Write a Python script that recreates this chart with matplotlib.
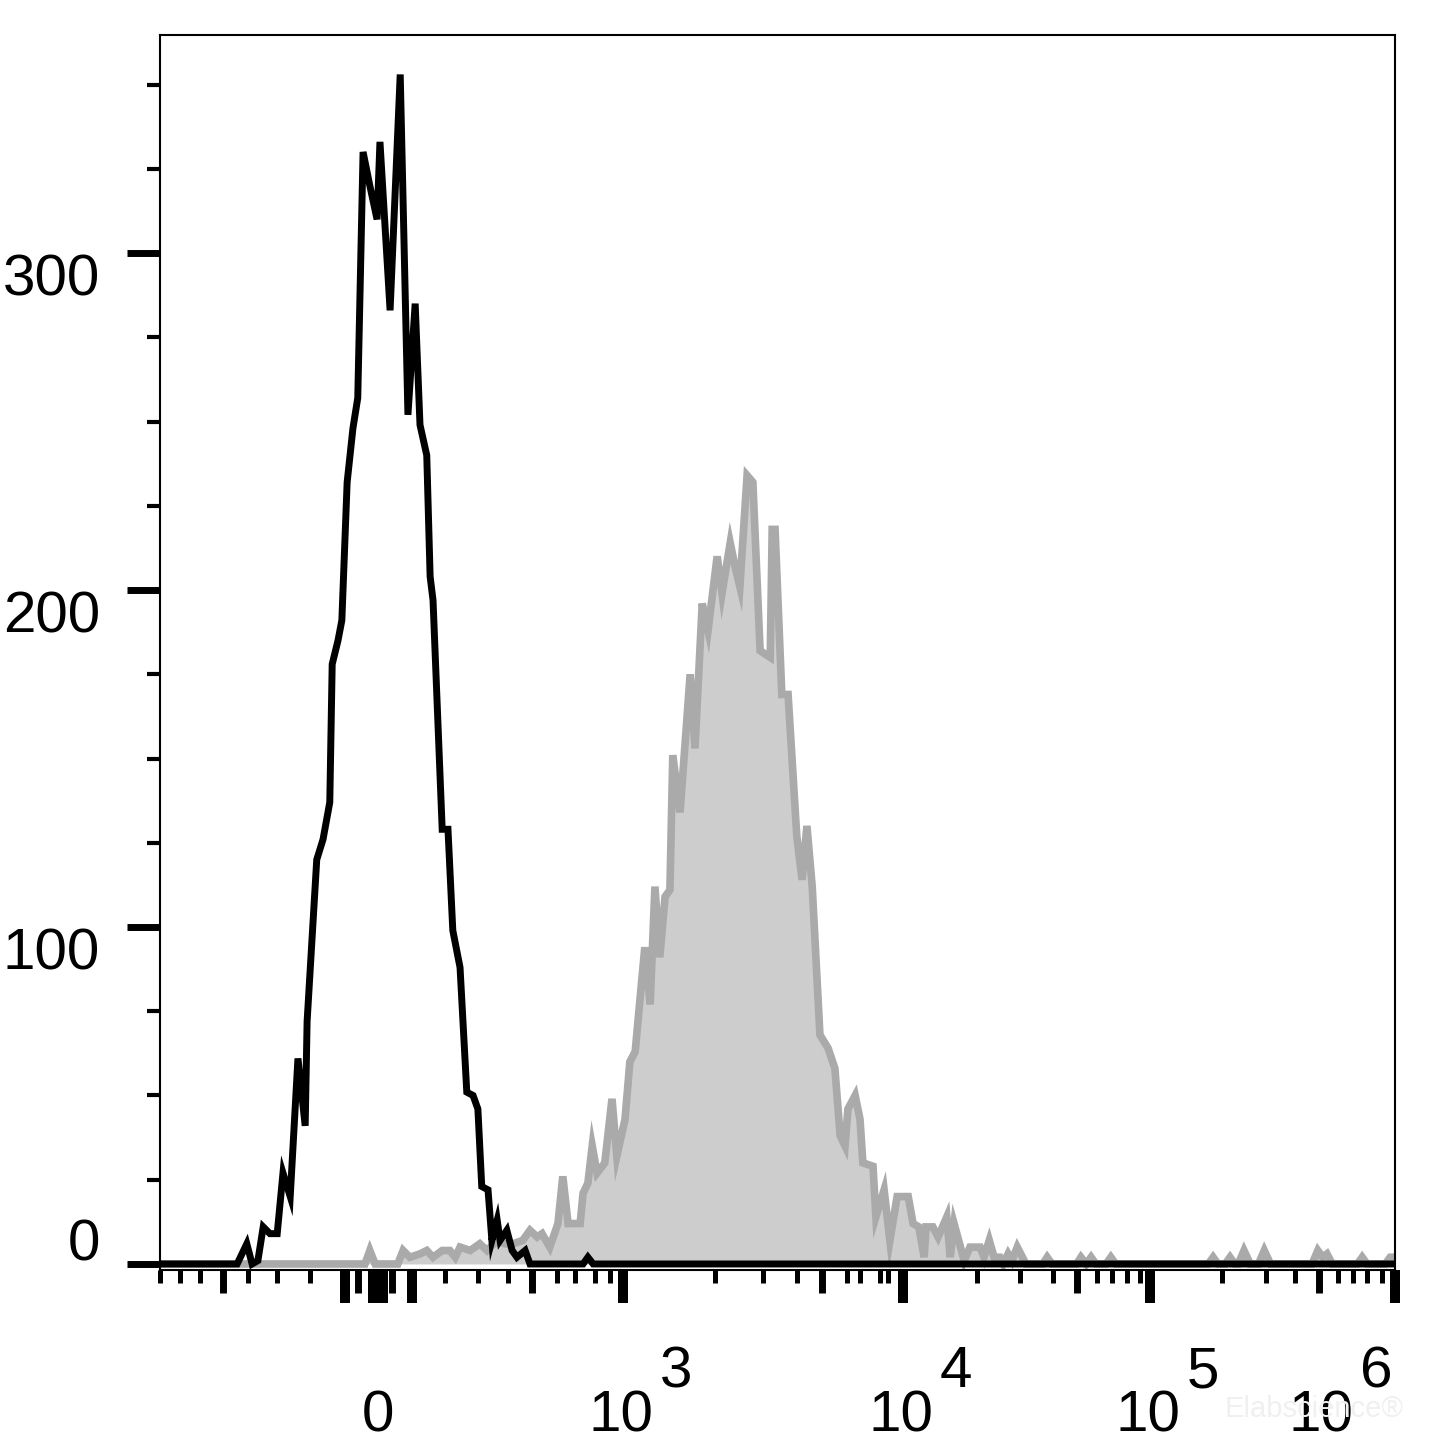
"""Flow cytometry overlay histogram: isotype control (black) vs stained cells (grey fill).

x is the display channel of a biexponential axis (0-256), y is the event count.
"""
import matplotlib
matplotlib.use("Agg")
import matplotlib.pyplot as plt
from matplotlib.transforms import blended_transform_factory, offset_copy

plt.rcParams["font.family"] = ["Liberation Sans", "DejaVu Sans"]

# isotype control
ctrl_ch = [0, 16.0, 18.0, 19.1, 20.3, 21.4, 22.8, 24.3, 25.5, 27.0,
           28.6, 30.1, 30.5, 32.5, 33.8, 35.2, 35.7, 36.9, 37.7, 38.8,
           40.0, 41.0, 42.1, 43.5, 45.0, 45.6, 47.7, 49.8, 51.4, 52.9,
           53.9, 55.3, 56.0, 56.6, 58.5, 59.7, 60.7, 62.2, 63.6, 64.9,
           65.9, 66.7, 68.0, 68.8, 69.9, 70.5, 71.9, 73.0, 74.0, 75.7,
           76.7, 87.7, 88.7, 89.8, 256]
ctrl_count = [0, 0, 6, 0, 1, 11, 9, 9, 27, 20,
              61, 41, 72, 120, 126, 137, 178, 185, 191, 232,
              248, 257, 330, 320, 310, 333, 283, 353, 252, 285,
              249, 240, 204, 197, 129, 129, 99, 88, 51, 50,
              46, 23, 22, 7, 13, 7, 10, 4, 2, 4,
              0, 0, 2, 0, 0]

# stained sample
stain_ch = [0, 42.5, 43.5, 44.6, 49.3, 50.4, 51.8, 53.9, 55.3, 56.6,
            58.5, 60.1, 61.2, 62.2, 64.3, 66.3, 67.8, 69.9, 71.5, 73.2,
            75.2, 76.7, 78.2, 79.2, 80.8, 82.5, 83.5, 84.6, 87.1, 87.7,
            88.7, 89.6, 90.6, 92.2, 93.7, 94.7, 96.4, 97.4, 98.5, 100.5,
            101.6, 102.6, 103.6, 104.7, 105.7, 106.3, 107.8, 109.9, 110.9, 112.4,
            113.6, 115.5, 116.5, 118.2, 119.2, 120.2, 121.7, 122.9, 124.4, 126.5,
            126.9, 127.5, 128.9, 130.2, 132.0, 133.1, 134.1, 135.2, 136.8, 138.5,
            139.9, 141.0, 142.0, 142.6, 144.1, 145.1, 145.7, 147.8, 148.4, 150.1,
            151.3, 152.8, 155.1, 156.1, 157.3, 158.4, 158.8, 160.2, 161.3, 163.1,
            163.8, 164.6, 166.7, 167.9, 170.0, 170.8, 171.9, 172.9, 174.1, 174.8,
            175.8, 176.6, 177.7, 179.5, 183.0, 183.9, 184.9, 190.0, 190.9, 192.0,
            193.0, 194.0, 196.1, 197.1, 198.1, 217.3, 218.3, 219.3, 220.8, 221.8,
            222.8, 223.5, 224.7, 226.0, 227.7, 228.9, 230.2, 238.8, 240.0, 241.0,
            241.9, 243.0, 248.2, 249.2, 250.2, 254.0, 255.0, 256]
stain_count = [0, 0, 4, 0, 0, 4, 2, 3, 4, 2,
               4, 4, 2, 5, 4, 6, 4, 7, 6, 6,
               7, 10, 8, 9, 5, 12, 26, 12, 12, 21,
               24, 35, 27, 30, 49, 32, 43, 60, 63, 94,
               77, 112, 91, 109, 111, 151, 134, 175, 153, 196,
               188, 210, 199, 214, 207, 201, 234, 232, 182, 180,
               218, 218, 169, 169, 127, 114, 130, 112, 68, 64,
               58, 38, 35, 46, 50, 43, 30, 29, 14, 22,
               7, 20, 20, 12, 11, 2, 11, 11, 8, 14,
               2, 12, 1, 5, 5, 2, 7, 2, 2, 0,
               3, 1, 5, 0, 0, 2, 0, 0, 2, 0,
               2, 0, 0, 2, 0, 0, 2, 0, 0, 2,
               0, 0, 4, 0, 0, 4, 0, 0, 4, 2,
               3, 0, 0, 2, 0, 0, 2, 2]

# y axis
y_major = [0, 100, 200, 300]
y_minor = [25, 50, 75, 125, 150, 175, 225, 250, 275, 325, 350]

# x axis (biexponential display channels)
x_long = [38.4, 44.2, 46.2, 52.2, 96.0, 154.0, 205.2, 256.0]
x_mid = [13.1, 41.0, 48.1, 77.1, 137.2, 190.1, 240.3]
x_short = [0, 4.2, 8.3, 18.2, 24.3, 31.1, 59.1, 65.9, 72.1, 82.3,
           86.0, 90.2, 93.3, 115.1, 125.0, 132.1, 142.4, 145.1, 149.3, 150.9,
           169.4, 178.3, 185.1, 194.2, 197.4, 200.5, 203.2, 220.2, 229.3, 235.3,
           244.2, 247.3, 250.2, 253.3]
x_label_pos = [45.2, 96.0, 154.0, 205.2, 256.0]
x_label_exp = [None, "3", "4", "5", "6"]
x_label_shift = [0, 0, 0, 0, -72]   # px, last label pulled in to fit the figure

FS = 42

fig = plt.figure(figsize=(14.45, 14.48), dpi=100)
ax = fig.add_axes([0.1107, 0.1229, 0.8547, 0.8529])

ax.fill_between(stain_ch, stain_count, 0, color="#cdcdcd", lw=0, zorder=1)
ax.plot(stain_ch, stain_count, color="#aaaaaa", lw=5.5,
        solid_joinstyle="miter", zorder=2)
ax.plot(ctrl_ch, ctrl_count, color="black", lw=5,
        solid_joinstyle="miter", zorder=3)

ax.set_xlim(0, 256)
ax.set_ylim(-1.8, 364.7)

for s in ax.spines.values():
    s.set_linewidth(1.5)

# y ticks, labels drawn by hand (FlowJo style: top-aligned with tick)
ax.set_yticks(y_major)
ax.set_yticks(y_minor, minor=True)
ax.tick_params(axis="y", which="major", length=23.8, width=5, labelleft=False)
ax.tick_params(axis="y", which="minor", length=9.4, width=3)
ytrans = blended_transform_factory(fig.transFigure, ax.transData)
for v in y_major:
    if v == 0:
        ax.text(0.0692, v, str(v), transform=offset_copy(ytrans, fig=fig, y=3, units="dots"),
                ha="right", va="baseline", fontsize=FS)
    else:
        ax.text(0.0692, v, str(v), transform=ytrans, ha="right", va="top", fontsize=FS)

# x ticks: long + short on the main axis, medium on a secondary one
ax.set_xticks(x_long)
ax.set_xticks(x_short, minor=True)
ax.tick_params(axis="x", which="major", length=23.8, width=7.2, labelbottom=False)
ax.tick_params(axis="x", which="minor", length=9.4, width=3.6)
sec = ax.secondary_xaxis("bottom")
sec.set_xticks(x_mid)
sec.tick_params(axis="x", length=16.6, width=5, labelbottom=False)
sec.spines["bottom"].set_visible(False)

xtrans = blended_transform_factory(ax.transData, fig.transFigure)
base_y = 1 - 1431 / 1448
exp_y = 1 - 1387 / 1448
for pos, ex, sh in zip(x_label_pos, x_label_exp, x_label_shift):
    if ex is None:
        ax.text(pos, base_y, "0", transform=xtrans, ha="center", va="baseline", fontsize=FS)
        continue
    ax.text(pos, base_y, "10", ha="right", va="baseline", fontsize=FS,
            transform=offset_copy(xtrans, fig=fig, x=30 + sh, units="dots"))
    ax.text(pos, exp_y, ex, ha="left", va="baseline", fontsize=FS,
            transform=offset_copy(xtrans, fig=fig, x=37 + sh, units="dots"))

# faint watermark
fig.text(1225 / 1445, 1 - 1417 / 1448, "Elabscience\u00ae", color="#f0f0f0",
         fontsize=21, ha="left", va="baseline", zorder=0)

fig.savefig("out.png", dpi=100)
